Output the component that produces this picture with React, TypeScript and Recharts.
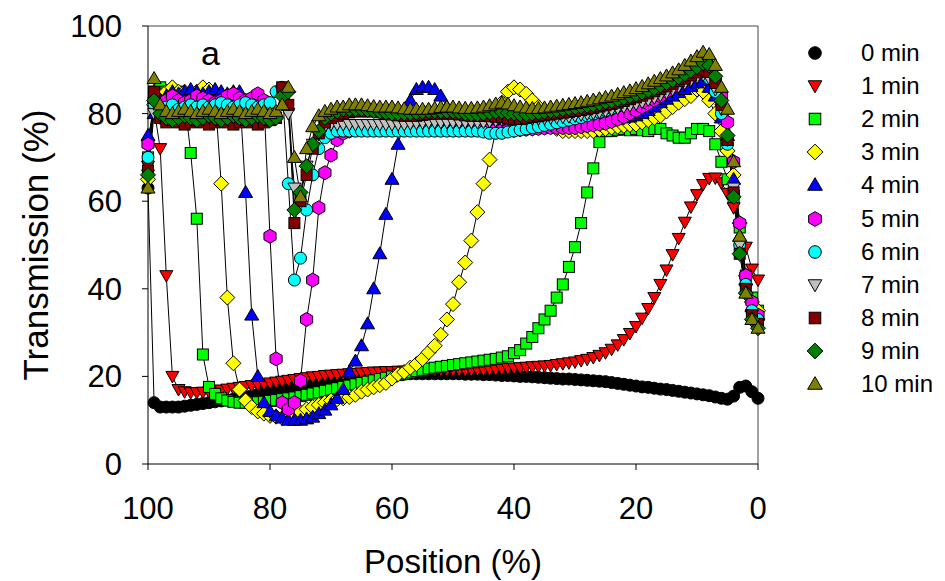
import React from 'react';
import { LineChart, Line, XAxis, YAxis, Legend, Label, ReferenceLine } from 'recharts';

const FONT = '"Liberation Sans", Arial, Helvetica, sans-serif';

const positions = [
  100, 99, 98, 97, 96, 95, 94, 93, 92, 91,
  90, 89, 88, 87, 86, 85, 84, 83, 82, 81,
  80, 79, 78, 77, 76, 75, 74, 73, 72, 71,
  70, 69, 68, 67, 66, 65, 64, 63, 62, 61,
  60, 59, 58, 57, 56, 55, 54, 53, 52, 51,
  50, 49, 48, 47, 46, 45, 44, 43, 42, 41,
  40, 39, 38, 37, 36, 35, 34, 33, 32, 31,
  30, 29, 28, 27, 26, 25, 24, 23, 22, 21,
  20, 19, 18, 17, 16, 15, 14, 13, 12, 11,
  10, 9, 8, 7, 6, 5, 4, 3, 2, 1,
  0,
];

const t0 = [
  63, 14, 13, 13, 13, 13, 13.2, 13.4, 13.6, 13.8,
  14, 14.2, 14.4, 14.6, 14.8, 15, 15.3, 15.6, 15.9, 16.2,
  16.5, 16.8, 17.1, 17.4, 17.7, 18, 18.3, 18.6, 18.9, 19.1,
  19.3, 19.5, 19.7, 19.8, 19.9, 20, 20.1, 20.2, 20.3, 20.4,
  20.4, 20.5, 20.5, 20.6, 20.6, 20.6, 20.6, 20.6, 20.6, 20.6,
  20.6, 20.6, 20.5, 20.5, 20.5, 20.4, 20.4, 20.3, 20.2, 20.2,
  20.1, 20, 20, 19.9, 19.8, 19.7, 19.6, 19.5, 19.4, 19.4,
  19.3, 19.2, 19.1, 19, 18.9, 18.8, 18.6, 18.4, 18.2, 18,
  17.8, 17.6, 17.5, 17.3, 17.1, 17, 16.8, 16.6, 16.4, 16.2,
  16, 15.8, 15.6, 15.3, 15, 14.8, 15.5, 17.5, 17.8, 16.5,
  15,
];

const t1 = [
  68, 81, 72, 43, 20, 17, 16.5, 16.3, 16.3, 16.4,
  16.5, 16.7, 16.9, 17.1, 17.3, 17.5, 17.7, 17.9, 18.1, 18.3,
  18.5, 18.7, 18.9, 19.1, 19.3, 19.5, 19.7, 19.9, 20, 20.2,
  20.3, 20.4, 20.5, 20.6, 20.7, 20.8, 20.9, 21, 21, 21.1,
  21.1, 21.2, 21.2, 21.3, 21.3, 21.3, 21.3, 21.4, 21.4, 21.4,
  21.4, 21.4, 21.4, 21.4, 21.5, 21.5, 21.5, 21.6, 21.7, 21.8,
  21.9, 22, 22.1, 22.2, 22.3, 22.4, 22.5, 22.7, 22.9, 23.1,
  23.3, 23.6, 23.9, 24.3, 24.8, 25.4, 26.2, 27.2, 28.4, 29.8,
  31.4, 33.3, 35.5, 38, 41, 44.3, 47.8, 51.5, 55.2, 58.7,
  61.5, 63.8, 65.2, 65.3, 64.2, 61.8, 58.5, 54, 49.5, 44.5,
  42,
];

const t2 = [
  70, 85, 86, 85, 84, 85, 83, 71, 56, 25,
  17.6, 16, 15, 14.5, 14.2, 14, 14, 14, 14.1, 14.2,
  14.4, 14.6, 14.8, 15, 15.2, 15.5, 15.8, 16.1, 16.4, 16.7,
  17, 17.3, 17.6, 17.9, 18.2, 18.5, 18.8, 19.1, 19.4, 19.7,
  20, 20.3, 20.6, 20.9, 21.2, 21.5, 21.8, 22, 22.2, 22.4,
  22.6, 22.8, 23, 23.2, 23.4, 23.6, 23.8, 24, 24.3, 24.6,
  25.3, 26, 27.5, 29, 31, 33, 35, 38, 41, 45,
  49.5, 55, 62, 67.5, 73.5, 76, 76, 76.3, 76.5, 76.2,
  76.5, 76.2, 76, 76.5, 76.5, 75.5, 75, 74.5, 74.5, 75.5,
  76.5, 76.5, 76, 73, 69, 65, 61, 54, 43, 38,
  35,
];

const t3 = [
  65, 82, 84, 85, 86, 85, 85, 84, 85, 86,
  85.5, 84, 64, 38, 23, 17, 14.5, 13, 12, 11.5,
  11, 10.8, 10.5, 10.5, 11, 11.8, 12.5, 13, 13.5, 14,
  14.5, 14.8, 15, 15.3, 15.8, 16.5, 17, 17.5, 18, 18.5,
  19.5, 20.5, 21, 22, 22.8, 24, 25.5, 27, 29.5, 33,
  36.5, 41.5, 46, 51, 57.5, 64, 69.5, 76, 82.5, 85,
  86, 85.5, 84.5, 83, 81.5, 79, 77.5, 76.5, 76, 76,
  76, 76, 76, 76, 76.3, 76.5, 76.8, 77, 77.2, 77.4,
  77.5, 78, 78.5, 79, 79.5, 80.5, 81.5, 82.5, 83.3, 84,
  85.5, 85, 83, 80, 76, 71.5, 66, 55, 43, 37,
  35,
];

const t4 = [
  75, 80, 83, 84, 85, 84.5, 85, 85.5, 85, 84.5,
  85, 85.5, 85, 84.5, 85, 85, 62, 34, 20, 14,
  12, 11, 10.5, 10, 10, 10, 10.3, 10.7, 11.5, 12.3,
  13.5, 15, 17, 21, 23.5, 27, 32, 40, 48, 57,
  65, 73, 78, 83, 85.5, 86, 86, 85.5, 84, 81.5,
  79.5, 79, 78.5, 78.5, 78.5, 78.5, 78.5, 78.5, 78.3, 78.2,
  78, 78, 78, 78, 78, 78, 78, 78, 78, 78,
  78, 78, 78.1, 78.2, 78.3, 78.4, 78.5, 78.7, 79, 79.2,
  79.5, 80, 80.7, 81.5, 82.5, 83.3, 84, 84.8, 85.5, 86.2,
  87, 87.5, 86, 84, 79, 75, 65, 52, 42, 36,
  34,
];

const t5 = [
  73, 83, 82, 83, 84, 83, 82.5, 83, 84, 83.5,
  83, 82.5, 83, 84, 84.5, 83.5, 83, 83.5, 84.5, 83,
  52, 24, 14, 12.5, 14, 19, 33, 42, 58.5, 66.5,
  70.5, 74, 75.5, 76, 76.5, 76.5, 76.5, 76.5, 76.5, 76.5,
  76.5, 76.5, 76.5, 76.5, 76.5, 76.5, 76.5, 76.5, 76.5, 76.5,
  76.5, 76.5, 76.5, 76.5, 76.5, 76.5, 76.5, 76.3, 76.2, 76.2,
  76.2, 76.3, 76.4, 76.5, 76.6, 76.7, 76.8, 76.8, 76.8, 76.8,
  76.8, 77, 77.2, 77.4, 77.6, 77.8, 78.2, 78.7, 79.3, 80,
  80.7, 81.5, 82.3, 83.1, 84, 85, 86, 87, 87.8, 88.5,
  89, 89.8, 90, 88, 84, 78, 69, 55, 43, 37,
  34,
];

const t6 = [
  70, 82, 81, 81.5, 82, 81, 81.5, 82, 81.5, 82,
  81.5, 82, 82.5, 82, 81.5, 82, 82.5, 82, 81.5, 82,
  82.5, 85, 86, 64, 42, 47, 58, 66, 72, 74.5,
  75.5, 76, 76, 76, 76, 76, 76, 76, 76, 76,
  76, 76, 76, 76, 76, 76, 76, 76, 76, 76,
  76, 76, 76, 76, 76, 75.8, 75.5, 75.5, 75.5, 75.8,
  76, 76.3, 76.5, 76.8, 77, 77.3, 77.6, 77.9, 78.2, 78.5,
  78.8, 79.1, 79.5, 79.9, 80.3, 80.7, 81.2, 81.7, 82.2, 82.7,
  83.2, 83.8, 84.4, 85, 85.6, 86.2, 86.8, 87.4, 88, 88.6,
  89.2, 89.5, 88, 85, 80, 73, 62, 50, 41, 35,
  33,
];

const t7 = [
  66, 80, 79, 79.5, 79, 78.5, 79, 79.5, 79, 78.5,
  79, 79.5, 79, 78.5, 79, 79.5, 79, 78.5, 79, 79.5,
  79, 80, 85, 80, 63, 61, 68, 73, 75.5, 77,
  77.5, 77.5, 77.5, 77.5, 77.5, 77.5, 77.5, 77.5, 77.5, 77.5,
  77.5, 77.5, 77.5, 77.7, 77.8, 77.9, 78, 78, 78, 78,
  78, 78, 78, 78, 78, 78, 78.2, 78.4, 78.6, 78.8,
  79, 79, 78.8, 78.8, 78.8, 78.9, 79, 79.1, 79.2, 79.3,
  79.5, 79.7, 79.9, 80.1, 80.3, 80.6, 80.9, 81.2, 81.5, 81.8,
  82.2, 82.6, 83.1, 83.6, 84.2, 84.8, 85.5, 86.2, 86.9, 87.6,
  88.3, 88.8, 88, 85.5, 81, 74, 63, 50, 40, 34,
  32,
];

const t8 = [
  67, 85, 79, 78, 78.5, 78, 77.5, 78, 78.5, 78,
  77.5, 78, 78.5, 78, 77.5, 78, 78.5, 78, 77.5, 78,
  78.5, 79, 86, 82, 55, 60, 66, 72, 75.5, 78,
  79, 79.5, 80, 80.3, 80.5, 80.5, 80.5, 80.5, 80.3, 80,
  79.8, 79.6, 79.5, 79.5, 79.5, 79.7, 79.9, 80, 80, 80,
  80, 79.8, 79.6, 79.5, 79.5, 79.5, 79.4, 79.3, 79.2, 79,
  78.8, 78.8, 79, 79.2, 79.4, 79.6, 79.8, 80, 80.2, 80.4,
  80.6, 80.8, 81, 81.3, 81.6, 81.9, 82.2, 82.5, 82.9, 83.3,
  83.7, 84.1, 84.6, 85.1, 85.6, 86.2, 86.8, 87.4, 88, 88.7,
  89.4, 90, 89.5, 87, 82, 74, 62, 48, 40, 34,
  32,
];

const t9 = [
  66, 83, 80, 79, 78.5, 79, 79.5, 79, 78.5, 79,
  79.5, 79, 78.5, 79, 79.5, 79, 78.5, 79, 79.5, 79,
  78.5, 79, 84, 85, 58, 62, 68, 73, 76, 79,
  80, 80.5, 81, 81, 81, 81, 80.8, 80.6, 80.4, 80.2,
  80, 80, 80, 80, 80.2, 80.4, 80.5, 80.5, 80.5, 80.5,
  80.5, 80.3, 80, 79.8, 79.8, 80, 80.2, 80.4, 80.4, 80.2,
  80, 79.8, 79.8, 80, 80.2, 80.4, 80.6, 80.8, 81, 81.2,
  81.4, 81.6, 81.8, 82, 82.3, 82.6, 82.9, 83.2, 83.6, 84,
  84.4, 84.8, 85.3, 85.8, 86.4, 87, 87.6, 88.3, 89, 89.8,
  90.6, 91.5, 91, 88.5, 83, 75, 61, 48, 39, 33,
  31,
];

const t10 = [
  63, 88, 82, 80.5, 80, 80.5, 81, 80.5, 80, 80.5,
  81, 80.5, 80, 80.5, 81, 80.5, 80, 80.5, 81, 80.5,
  80, 80.5, 82, 86, 70, 61, 72, 77, 79.5, 80.5,
  81, 81.5, 81.5, 82, 82, 82, 81.8, 81.6, 81.5, 81.5,
  81.5, 81.3, 81.1, 81, 81, 81, 81, 81.2, 81.4, 81.5,
  81.5, 81.3, 81.2, 81.2, 81.3, 81.5, 81.8, 82.2, 82.4, 82.2,
  81.8, 81.5, 81.3, 81.2, 81.2, 81.3, 81.5, 81.7, 81.9, 82.1,
  82.3, 82.5, 82.8, 83.1, 83.4, 83.7, 84, 84.4, 84.8, 85.2,
  85.7, 86.2, 86.8, 87.4, 88, 88.6, 89.3, 90, 91, 92,
  93, 94, 93.5, 91, 86, 81, 69, 52, 39, 33,
  31,
];

const seriesValues = [t0, t1, t2, t3, t4, t5, t6, t7, t8, t9, t10];
const seriesNames = ['0 min', '1 min', '2 min', '3 min', '4 min', '5 min', '6 min', '7 min', '8 min', '9 min', '10 min'];
const seriesColors = ['#000000', '#ff0000', '#00ff00', '#ffff00', '#0000ff', '#ff00ff', '#00ffff', '#c0c0c0', '#800000', '#008000', '#808000'];
const seriesShapes = ['circle', 'triDown', 'square', 'diamond', 'triUp', 'hexagon', 'circle', 'triDown', 'square', 'diamond', 'triUp'];

const xTicks = [0, 20, 40, 60, 80, 100];
const yTicks = [0, 20, 40, 60, 80, 100];

function Marker({ shape, cx, cy, fill, s = 1 }: { shape: string; cx: number; cy: number; fill: string; s?: number }) {
  const common = { fill, stroke: '#000', strokeWidth: 1 };
  if (cx == null || cy == null) return null;
  switch (shape) {
    case 'circle':
      return <circle cx={cx} cy={cy} r={6 * s} {...common} />;
    case 'triDown':
      return <polygon points={`${cx - 6.5 * s},${cy - 5 * s} ${cx + 6.5 * s},${cy - 5 * s} ${cx},${cy + 6.5 * s}`} {...common} />;
    case 'square':
      return <rect x={cx - 5.5 * s} y={cy - 5.5 * s} width={11 * s} height={11 * s} {...common} />;
    case 'diamond':
      return <polygon points={`${cx},${cy - 7.5 * s} ${cx + 7.5 * s},${cy} ${cx},${cy + 7.5 * s} ${cx - 7.5 * s},${cy}`} {...common} />;
    case 'triUp':
      return <polygon points={`${cx},${cy - 7 * s} ${cx + 7 * s},${cy + 5 * s} ${cx - 7 * s},${cy + 5 * s}`} {...common} />;
    case 'hexagon': {
      const r = 7 * s;
      const pts = [-90, -30, 30, 90, 150, 210]
        .map((a) => `${cx + r * Math.cos((a * Math.PI) / 180)},${cy + r * Math.sin((a * Math.PI) / 180)}`)
        .join(' ');
      return <polygon points={pts} {...common} />;
    }
    default:
      return <circle cx={cx} cy={cy} r={6 * s} {...common} />;
  }
}

const makeDot = (shape: string, fill: string, sid: number) => (props: any) => (
  <Marker key={`m${sid}-${props.index}`} shape={shape} cx={props.cx} cy={props.cy} fill={fill} />
);

const renderLegend = () => (
  <div style={{ fontFamily: FONT, fontSize: 24, color: '#000' }}>
    {seriesNames.map((name, i) => (
      <div key={name} style={{ height: 33.2, display: 'flex', alignItems: 'center' }}>
        <svg width={30} height={30} style={{ display: 'block' }}>
          <Marker shape={seriesShapes[i]} cx={15} cy={15} fill={seriesColors[i]} s={1.05} />
        </svg>
        <span style={{ marginLeft: 31, lineHeight: '24px' }}>{name}</span>
      </div>
    ))}
  </div>
);

export default function App() {
  const seriesData = seriesValues.map((vals) => positions.map((x, i) => ({ x, y: vals[i] })));
  return (
    <div style={{ position: 'absolute', left: 0, top: 0, width: 945, height: 581, background: '#fff' }}>
      <LineChart width={945} height={581} margin={{ top: 26, right: 187, bottom: 0, left: 0 }}>
        <XAxis
          dataKey="x"
          type="number"
          domain={[0, 100]}
          reversed
          ticks={xTicks}
          interval={0}
          height={117}
          tickSize={6}
          tickMargin={27}
          axisLine={{ stroke: '#000', strokeWidth: 1 }}
          tickLine={{ stroke: '#000', strokeWidth: 1 }}
          tick={{ fontSize: 31, fill: '#000', fontFamily: FONT }}
        >
          <Label value="Position (%)" position="insideBottom" offset={8} fill="#000" style={{ fontSize: 33, fill: '#000', fontFamily: FONT }} />
        </XAxis>
        <YAxis
          type="number"
          domain={[0, 100]}
          ticks={yTicks}
          interval={0}
          width={148}
          tickSize={6}
          tickMargin={20}
          axisLine={{ stroke: '#000', strokeWidth: 1 }}
          tickLine={{ stroke: '#000', strokeWidth: 1 }}
          tick={{ fontSize: 31, fill: '#000', fontFamily: FONT }}
        >
          <Label
            value="Transmission (%)"
            angle={-90}
            position="insideLeft"
            offset={36}
            fill="#000"
            style={{ textAnchor: 'middle', fontSize: 35, fill: '#000', fontFamily: FONT }}
          />
        </YAxis>
        <ReferenceLine y={100} stroke="#444" strokeWidth={1} />
        <ReferenceLine x={0} stroke="#444" strokeWidth={1} />
        {seriesData.map((d, i) => (
          <Line
            key={seriesNames[i]}
            data={d}
            dataKey="y"
            name={seriesNames[i]}
            type="linear"
            stroke="#000"
            strokeWidth={1}
            dot={makeDot(seriesShapes[i], seriesColors[i], i)}
            activeDot={false}
            isAnimationActive={false}
          />
        ))}
        <Legend
          layout="horizontal"
          verticalAlign="middle"
          align="center"
          content={renderLegend}
          wrapperStyle={{ left: 800, top: 36, width: 145, height: 340 }}
        />
      </LineChart>
      <svg width={945} height={581} style={{ position: 'absolute', left: 0, top: 0, pointerEvents: 'none' }}>
        <text x={201} y={65} fontSize={34} fontFamily={FONT} fill="#000">a</text>
      </svg>
    </div>
  );
}
